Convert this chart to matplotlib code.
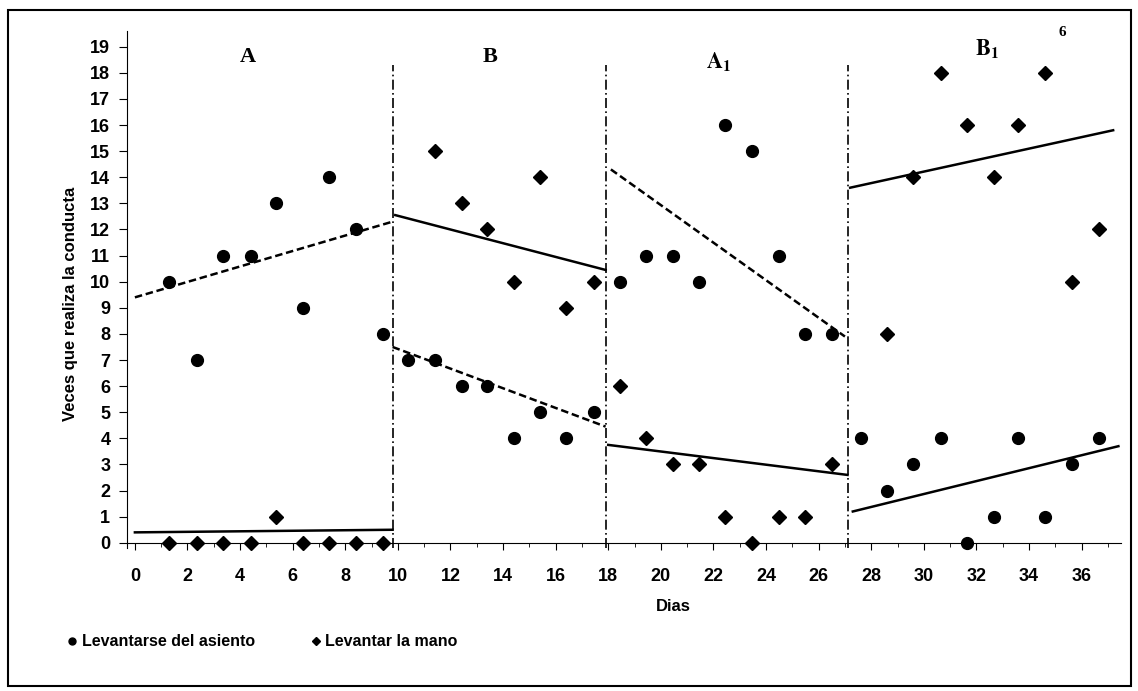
import numpy as np
import matplotlib
matplotlib.use('Agg')
from matplotlib import pyplot as plt
from matplotlib.patches import Rectangle
from matplotlib.lines import Line2D

plt.rc('font', family='Liberation Sans', size=12, weight='bold')
plt.rcParams['mathtext.fontset'] = 'stix'

nan = np.nan

# days per phase
dias_A = [1.3, 2.35, 3.35, 4.4, 5.35, 6.4, 7.4, 8.4, 9.45]
dias_B = [10.4, 11.4, 12.45, 13.4, 14.4, 15.4, 16.4, 17.45]
dias_A1 = [18.45, 19.45, 20.45, 21.45, 22.45, 23.45, 24.5, 25.5, 26.5]
dias_B1 = [27.6, 28.6, 29.6, 30.65, 31.65, 32.65, 33.6, 34.6, 35.65, 36.65]

# Levantarse del asiento
asiento_A = [10, 7, 11, 11, 13, 9, 14, 12, 8]
asiento_B = [7, 7, 6, 6, 4, 5, 4, 5]
asiento_A1 = [10, 11, 11, 10, 16, 15, 11, 8, 8]
asiento_B1 = [4, 2, 3, 4, 0, 1, 4, 1, 3, 4]

# Levantar la mano
mano_A = [0, 0, 0, 0, 1, 0, 0, 0, 0]
mano_B = [nan, 15, 13, 12, 10, 14, 9, 10]
mano_A1 = [6, 4, 3, 3, 1, 0, 1, 1, 3]
mano_B1 = [nan, 8, 14, 18, 16, 14, 16, 18, 10, 12]

# trend lines: (x start, x end), (y start, y end), style
tendencias = [
    ((0, 9.8), (9.4, 12.3), '--'),
    ((0, 9.8), (0.4, 0.5), '-'),
    ((9.9, 17.9), (12.55, 10.45), '-'),
    ((9.8, 17.9), (7.5, 4.45), '--'),
    ((18.1, 27.0), (14.3, 7.9), '--'),
    ((18.0, 27.1), (3.75, 2.6), '-'),
    ((27.2, 37.2), (13.6, 15.8), '-'),
    ((27.3, 37.4), (1.2, 3.7), '-'),
]

fases = ['A', 'B', r'$\mathbf{A_1}$', r'$\mathbf{B_1}$']
fases_x = [4.3, 13.5, 22.2, 32.4]
fases_y = [18.6, 18.6, 18.4, 18.9]
divisiones = [9.8, 17.9, 27.1]

fig = plt.figure(figsize=(11.38, 6.91), dpi=100)
ax = fig.add_axes([0.1116, 0.2069, 0.8735, 0.7482])

dias_all = dias_A + dias_B + dias_A1 + dias_B1
asiento_all = asiento_A + asiento_B + asiento_A1 + asiento_B1
mano_all = mano_A + mano_B + mano_A1 + mano_B1

ax.plot(dias_all, asiento_all, 'o', color='black', markersize=8.5, clip_on=False, zorder=4)
ax.plot(dias_all, mano_all, 'D', color='black', markersize=7, clip_on=False, zorder=4)

for (x0, x1), (y0, y1), ls in tendencias:
    ax.plot([x0, x1], [y0, y1], ls, color='black', linewidth=1.8, dashes=(3, 1.5) if ls == '--' else (None, None))

for xd in divisiones:
    ax.plot([xd, xd], [-0.2, 18.3], color='black', linewidth=1.2, linestyle=(0, (6, 2, 1, 2)))

for t, x, y in zip(fases, fases_x, fases_y):
    ax.text(x, y, t, family='Liberation Serif', fontsize=16, weight='bold', ha='center', va='center')

ax.set_xlim(-0.3, 37.5)
ax.set_ylim(-0.2, 19.6)
ax.spines['top'].set_visible(False)
ax.spines['right'].set_visible(False)
ax.spines['bottom'].set_position(('data', 0))
ax.set_yticks(range(0, 20))
ax.set_xticks(range(0, 37, 2))
ax.set_xticks(range(0, 38), minor=True)
ax.tick_params(axis='y', direction='out', length=6, pad=6, labelsize=13)
ax.tick_params(axis='x', which='major', direction='out', length=5, pad=13, labelsize=13)
ax.tick_params(axis='x', which='minor', direction='out', length=3)

fig.text(70 / 1138, 0.56, 'Veces que realiza la conducta', rotation=90, ha='center', va='center', fontsize=12, weight='bold')
fig.text(673 / 1138, 0.1216, 'Dias', ha='center', va='center', fontsize=12, weight='bold')
fig.text(1062 / 1138, 1 - 32 / 691, '6', family='Liberation Serif', fontsize=11, weight='bold', ha='center', va='center')

handles = [Line2D([], [], marker='o', linestyle='', color='black', markersize=5),
           Line2D([], [], marker='D', linestyle='', color='black', markersize=4.5)]
fig.legend(handles, ['Levantarse del asiento', 'Levantar la mano'], loc='center left',
           bbox_to_anchor=(50 / 1138, 1 - 642 / 691), ncol=2, frameon=False,
           handletextpad=0.1, columnspacing=3.3, handlelength=1.0,
           prop={'size': 11.5, 'weight': 'bold'})

fig.add_artist(Rectangle((8 / 1138, 5 / 691), 1123 / 1138, 676 / 691, transform=fig.transFigure,
                         fill=False, edgecolor='black', linewidth=1.5))

fig.savefig('out.png', dpi=100)
